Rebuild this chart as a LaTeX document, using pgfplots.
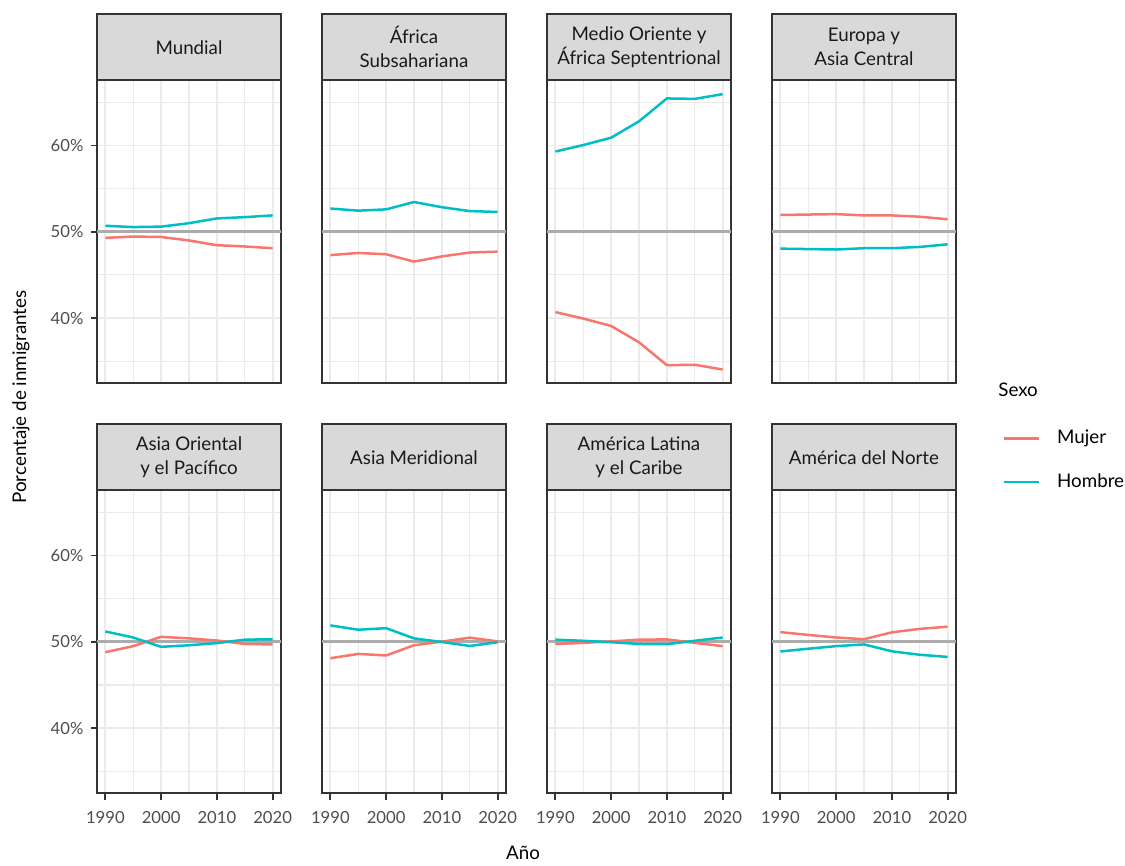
\documentclass[border=0pt]{standalone}
\usepackage{pgfplots}
\pgfplotsset{compat=1.18}
\usepackage{pgfplotstable}
\usepackage{fontspec}
\setmainfont{Lato}
\definecolor{mujer}{HTML}{F8766D}
\definecolor{hombre}{HTML}{00BFC4}
\definecolor{gridc}{HTML}{EBEBEB}
\definecolor{borderc}{HTML}{333333}
\definecolor{stripc}{HTML}{D9D9D9}
\definecolor{tickc}{HTML}{4D4D4D}
\definecolor{stript}{HTML}{1A1A1A}
\definecolor{hlinec}{HTML}{ABABAB}
\def\u{0.48pt}

% year  Mujer  Hombre
\pgfplotstableread{
year M H
1990 49.30 50.70
1995 49.45 50.55
2000 49.40 50.60
2005 49.00 51.00
2010 48.45 51.55
2015 48.30 51.70
2020 48.10 51.90
}\mundial
\pgfplotstableread{
year M H
1990 47.30 52.70
1995 47.55 52.45
2000 47.40 52.60
2005 46.55 53.45
2010 47.15 52.85
2015 47.60 52.40
2020 47.70 52.30
}\africa
\pgfplotstableread{
year M H
1990 40.70 59.30
1995 39.95 60.05
2000 39.10 60.90
2005 37.20 62.80
2010 34.55 65.45
2015 34.60 65.40
2020 34.05 65.95
}\mena
\pgfplotstableread{
year M H
1990 51.95 48.05
1995 52.00 48.00
2000 52.05 47.95
2005 51.90 48.10
2010 51.90 48.10
2015 51.75 48.25
2020 51.45 48.55
}\europa
\pgfplotstableread{
year M H
1990 48.80 51.20
1995 49.50 50.50
2000 50.58 49.42
2005 50.40 49.60
2010 50.15 49.85
2015 49.75 50.25
2020 49.70 50.30
}\asiaor
\pgfplotstableread{
year M H
1990 48.10 51.90
1995 48.60 51.40
2000 48.42 51.58
2005 49.60 50.40
2010 50.02 49.98
2015 50.48 49.52
2020 50.05 49.95
}\asiamer
\pgfplotstableread{
year M H
1990 49.75 50.25
1995 49.88 50.12
2000 50.05 49.95
2005 50.25 49.75
2010 50.28 49.72
2015 49.88 50.12
2020 49.50 50.50
}\alc
\pgfplotstableread{
year M H
1990 51.12 48.88
1995 50.80 49.20
2000 50.50 49.50
2005 50.30 49.70
2010 51.10 48.90
2015 51.50 48.50
2020 51.75 48.25
}\amn

\pgfplotsset{
 facet/.style={
  scale only axis, width=88.32pt, height=145.44pt,
  xmin=1988.5,xmax=2021.5,ymin=32.45,ymax=67.55,
  xtick={1990,2000,2010,2020}, xticklabels={1990,2000,2010,2020},
  minor xtick={1995,2005,2015},
  ytick={40,50,60}, yticklabels={40\%,50\%,60\%},
  minor ytick={35,45,55,65},
  grid=both,
  major grid style={gridc, line width=0.85pt},
  minor grid style={gridc, line width=0.5pt},
  axis line style={borderc, line width=0.9pt},
  tick style={borderc, line width=0.9pt},
  major tick length=3pt, minor tick length=0pt,
  tick align=outside,
  xtick pos=bottom, ytick pos=left,
  tick label style={font=\fontsize{8}{9}\selectfont, text=tickc},
  xticklabel shift=2pt,
  xmajorticks=false, ymajorticks=false,
 },
 showx/.style={xmajorticks=true},
 showy/.style={ymajorticks=true},
 hl/.style={hlinec, line width=1.3pt, forget plot},
 lm/.style={mujer, line width=1.2pt},
 lh/.style={hombre, line width=1.2pt},
}
\newcommand{\strip}[2]{%
  \draw[fill=stripc, draw=borderc, line width=0.9pt] (#1.north west) rectangle ([yshift=31.68pt]#1.north east);
  \node[font=\fontsize{9}{11.5}\selectfont, text=stript, align=center] at ([yshift=15.84pt]#1.north) {#2};
}
\newcommand{\facet}[5]{% name, x px, y px, table, extra opts
  \begin{axis}[facet, name=#1, at={(#2*\u,-#3*\u)}, anchor=south west, #5]
    \addplot[hl] coordinates {(1988.5,50) (2021.5,50)};
    \addplot[lm] table[x=year,y=M] {#4};
    \addplot[lh] table[x=year,y=H] {#4};
  \end{axis}
}

\begin{document}
\begin{tikzpicture}
\path[use as bounding box] (0,0) rectangle (1125*\u,-865*\u);

\facet{p1}{97}{383.3}{\mundial}{showy}
\facet{p2}{322}{383.3}{\africa}{}
\facet{p3}{547}{383.3}{\mena}{}
\facet{p4}{772}{383.3}{\europa}{}
\facet{p5}{97}{793.3}{\asiaor}{showy,showx}
\facet{p6}{322}{793.3}{\asiamer}{showx}
\facet{p7}{547}{793.3}{\alc}{showx}
\begin{axis}[facet, name=p8, at={(772*\u,-793.3*\u)}, anchor=south west, showx,
  legend style={at={(axis description cs:1.2554,1.099)}, anchor=west, draw=none, fill=none,
    inner sep=0pt, outer sep=0pt, font=\fontsize{9}{11}\selectfont, row sep=12pt, column sep=8pt,
    nodes={inner sep=0pt, text height=7pt, text depth=2pt}},
  legend cell align=left,
  legend image code/.code={\draw[#1] (0pt,0pt)--(16.8pt,0pt);}]
    \addplot[hl] coordinates {(1988.5,50) (2021.5,50)};
    \addplot[lm] table[x=year,y=M] {\amn};
    \addplot[lh] table[x=year,y=H] {\amn};
    \legend{Mujer,Hombre}
\end{axis}

\strip{p1}{Mundial}
\strip{p2}{África\\Subsahariana}
\strip{p3}{Medio Oriente y\\África Septentrional}
\strip{p4}{Europa y\\Asia Central}
\strip{p5}{Asia Oriental\\y el Pacífico}
\strip{p6}{Asia Meridional}
\strip{p7}{América Latina\\y el Caribe}
\strip{p8}{América del Norte}

\node[rotate=90, font=\fontsize{9}{11}\selectfont] at (21*\u,-397*\u) {Porcentaje de inmigrantes};
\node[font=\fontsize{9}{11}\selectfont] at (523*\u,-853*\u) {Año};
\node[anchor=west, inner sep=0pt, font=\fontsize{9}{11}\selectfont] at (998*\u,-390*\u) {Sexo};
\end{tikzpicture}
\end{document}
